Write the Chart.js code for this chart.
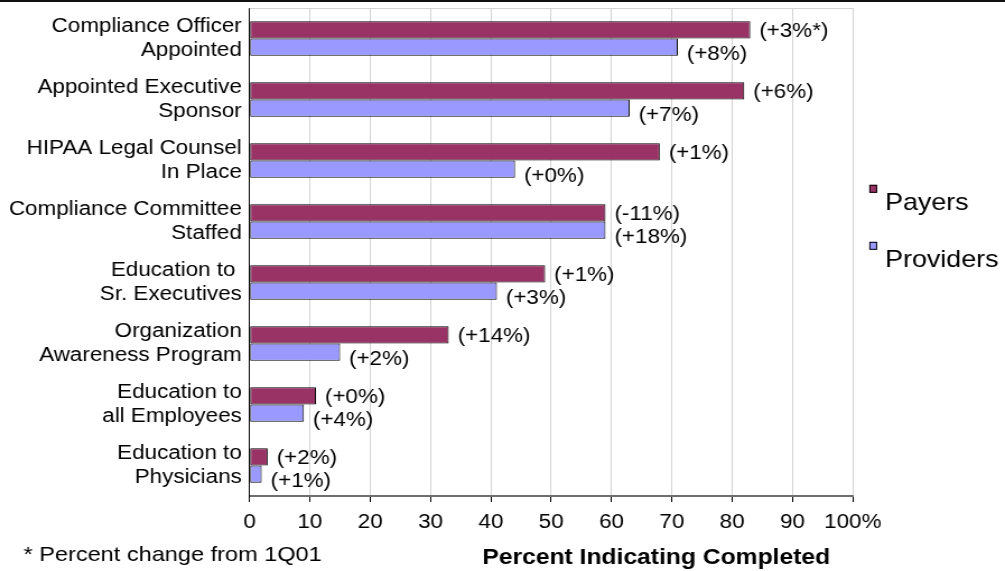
<!DOCTYPE html>
<html>
<head>
<meta charset="utf-8">
<title>HIPAA Compliance Readiness</title>
<script src="https://cdn.jsdelivr.net/npm/chart.js@4/dist/chart.umd.min.js"></script>
<style>
  html, body { margin: 0; padding: 0; background: #ffffff; }
  #wrap { width: 1005px; height: 571px; overflow: hidden; }
  #chart { display: block; }
</style>
</head>
<body>
<div id="wrap"><canvas id="chart"></canvas></div>
<script>
// Survey results: share of organisations reporting each HIPAA step as completed
const categories = [
  ['Compliance Officer', 'Appointed'],
  ['Appointed Executive', 'Sponsor'],
  ['HIPAA Legal Counsel', 'In Place'],
  ['Compliance Committee', 'Staffed'],
  ['Education to ', 'Sr. Executives'],
  ['Organization', 'Awareness Program'],
  ['Education to', 'all Employees'],
  ['Education to', 'Physicians']
];
const seriesNames = ['Payers', 'Providers'];
const payers = [83, 82, 68, 59, 49, 33, 11, 3];
const providers = [71, 63, 44, 59, 41, 15, 9, 2];
const payerChange = ['(+3%*)', '(+6%)', '(+1%)', '(-11%)', '(+1%)', '(+14%)', '(+0%)', '(+2%)'];
const providerChange = ['(+8%)', '(+7%)', '(+0%)', '(+18%)', '(+3%)', '(+2%)', '(+4%)', '(+1%)'];
const xTickValues = [0, 10, 20, 30, 40, 50, 60, 70, 80, 90, 100];
const footnote = '* Percent change from 1Q01';
const axisTitle = 'Percent Indicating Completed';

// The canvas is drawn narrower and widened with CSS, giving the broad lettering.
const SX = 1.12;
const W = Math.round(1005 / SX);
const H = 571;
const canvas = document.getElementById('chart');
canvas.width = W;
canvas.height = H;
canvas.style.width = '1005px';
canvas.style.height = H + 'px';

const FONT = "'Liberation Sans', Arial, Helvetica, sans-serif";
const changeLabels = [payerChange, providerChange];
const labelDy = [1.5, 7.5];

const decorations = {
  id: 'decorations',
  beforeDraw(chart) {
    const ctx = chart.ctx;
    ctx.save();
    ctx.fillStyle = '#ffffff';
    ctx.fillRect(0, 0, chart.width, chart.height);
    ctx.restore();
  },
  beforeDatasetsDraw(chart) {
    const { ctx, chartArea } = chart;
    ctx.save();
    ctx.strokeStyle = '#d4d4d4';
    ctx.lineWidth = 1;
    ctx.beginPath();
    ctx.moveTo(chartArea.left, chartArea.top + 0.5);
    ctx.lineTo(chartArea.right, chartArea.top + 0.5);
    ctx.stroke();
    ctx.restore();
  },
  afterDatasetsDraw(chart) {
    const ctx = chart.ctx;
    ctx.save();
    ctx.font = '20px ' + FONT;
    ctx.fillStyle = '#000000';
    ctx.textAlign = 'left';
    ctx.textBaseline = 'middle';
    chart.data.datasets.forEach((ds, di) => {
      const meta = chart.getDatasetMeta(di);
      meta.data.forEach((bar, i) => {
        ctx.fillText(changeLabels[di][i], bar.x + 8, bar.y + labelDy[di]);
      });
    });
    ctx.restore();
  },
  afterDraw(chart) {
    const ctx = chart.ctx;
    ctx.save();
    // rule across the top of the figure
    ctx.fillStyle = '#111111';
    ctx.fillRect(0, 0, chart.width, 2);

    // legend
    ctx.textAlign = 'left';
    ctx.textBaseline = 'alphabetic';
    ctx.font = '24px ' + FONT;
    const legendX = 869 / SX;
    const baselines = [210, 267];
    chart.data.datasets.forEach((ds, di) => {
      const base = baselines[di];
      const capTop = base - 24 * 0.716;
      ctx.fillStyle = ds.backgroundColor;
      ctx.fillRect(legendX, capTop - 8, 7, 8);
      ctx.strokeStyle = '#000000';
      ctx.lineWidth = 1;
      ctx.strokeRect(legendX + 0.5, capTop - 7.5, 6, 7);
      ctx.fillStyle = '#000000';
      ctx.fillText(ds.label, legendX + 14, base);
    });

    // footnote and axis title
    ctx.font = '21px ' + FONT;
    ctx.fillText(footnote, 21, 561);
    ctx.font = 'bold 22px ' + FONT;
    ctx.textAlign = 'center';
    ctx.fillText(axisTitle, 656 / SX, 564);
    ctx.restore();
  }
};

new Chart(canvas, {
  type: 'bar',
  data: {
    labels: categories,
    datasets: [
      {
        label: seriesNames[0],
        data: payers,
        backgroundColor: '#993366',
        borderColor: '#000000',
        borderWidth: 1,
        borderSkipped: false
      },
      {
        label: seriesNames[1],
        data: providers,
        backgroundColor: '#9999ff',
        borderColor: '#000000',
        borderWidth: 1,
        borderSkipped: false
      }
    ]
  },
  options: {
    indexAxis: 'y',
    responsive: false,
    animation: false,
    devicePixelRatio: 1,
    categoryPercentage: 0.567,
    barPercentage: 1.0,
    layout: { padding: { top: 8, right: W - 852.5 / SX, left: 0, bottom: 0 } },
    plugins: {
      legend: { display: false },
      tooltip: { enabled: false }
    },
    scales: {
      x: {
        type: 'linear',
        min: 0,
        max: 100,
        afterBuildTicks(scale) {
          scale.ticks = xTickValues.map(v => ({ value: v }));
        },
        afterFit(scale) {
          scale.height = H - 496;
          scale.paddingLeft = 0;
          scale.paddingRight = 0;
        },
        ticks: {
          color: '#000000',
          font: { family: FONT, size: 20 },
          padding: 8,
          autoSkip: false,
          maxRotation: 0,
          minRotation: 0,
          callback: v => (v === 100 ? v + '%' : String(v))
        },
        grid: {
          color: '#d4d4d4',
          lineWidth: 1,
          drawTicks: true,
          tickLength: 6,
          tickColor: '#000000',
          tickWidth: 1
        },
        border: { display: true, color: '#6e6e6e', width: 2 }
      },
      y: {
        type: 'category',
        afterFit(scale) {
          scale.width = 249.5 / SX;
          scale.paddingTop = 0;
          scale.paddingBottom = 0;
        },
        ticks: {
          color: '#000000',
          font: { family: FONT, size: 20, lineHeight: 1.21 },
          padding: 7,
          autoSkip: false
        },
        grid: { display: false, drawTicks: false },
        border: { display: true, color: '#000000', width: 1 }
      }
    }
  },
  plugins: [decorations]
});
</script>
</body>
</html>
